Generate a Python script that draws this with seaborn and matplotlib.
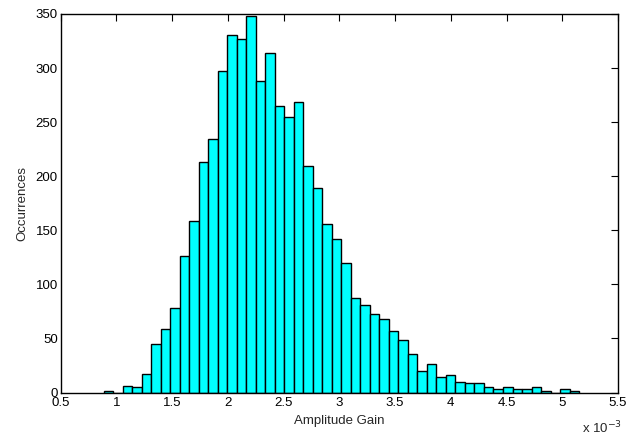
import numpy as np
import pandas as pd
import matplotlib
matplotlib.use("Agg")
import matplotlib.pyplot as plt
from matplotlib.ticker import FuncFormatter
import seaborn as sns

# Histogram data (amplitude gain in units of 1e-3)
bin_start = 0.886
bin_width = 0.0853
counts = [1, 0, 6, 5, 17, 45, 59, 78, 126, 159,
          213, 234, 297, 331, 327, 348, 288, 314, 265, 255,
          269, 209, 189, 156, 142, 120, 87, 81, 73, 68,
          57, 49, 36, 20, 26, 14, 16, 10, 9, 9,
          5, 3, 5, 3, 3, 5, 1, 0, 3, 1]
x_ticks = [0.5, 1, 1.5, 2, 2.5, 3, 3.5, 4, 4.5, 5, 5.5]
y_ticks = [0, 50, 100, 150, 200, 250, 300, 350]

edges = [bin_start + bin_width * i for i in range(len(counts) + 1)]
centers = [(edges[i] + edges[i + 1]) / 2 for i in range(len(counts))]
df = pd.DataFrame({"gain": centers, "count": counts})

sns.set_style("white")
plt.rcParams["font.family"] = ["Liberation Sans", "DejaVu Sans"]

fig = plt.figure(figsize=(6.29, 4.36), dpi=100)
ax = fig.add_axes([60.5/629, 43.5/436, 557.5/629, 378.5/436])

sns.histplot(data=df, x="gain", weights="count", bins=edges, ax=ax,
             color="#00FFFF", alpha=1.0, edgecolor="black", linewidth=1.0)

ax.set_xlim(0.5, 5.5)
ax.set_ylim(0, 350)
ax.set_xticks(x_ticks)
ax.set_yticks(y_ticks)
ax.xaxis.set_major_formatter(FuncFormatter(lambda v, p: f"{v:g}"))
ax.tick_params(direction="in", length=5, width=0.8, top=True, right=True,
               labelsize=9.5, colors="black")
ax.tick_params(axis="x", pad=3.5)
ax.tick_params(axis="y", pad=2)
for s in ax.spines.values():
    s.set_visible(True)
    s.set_color("black")
    s.set_linewidth(1.0)

ax.set_xlabel("Amplitude Gain", fontsize=9.5, labelpad=4)
ax.set_ylabel("Occurrences", fontsize=9.5, labelpad=5)
fig.text(582/629, 1 - 428/436, r"x 10$^{-3}$", fontsize=9.5, ha="left", va="center")

fig.savefig("out.png", dpi=100, facecolor="white")
